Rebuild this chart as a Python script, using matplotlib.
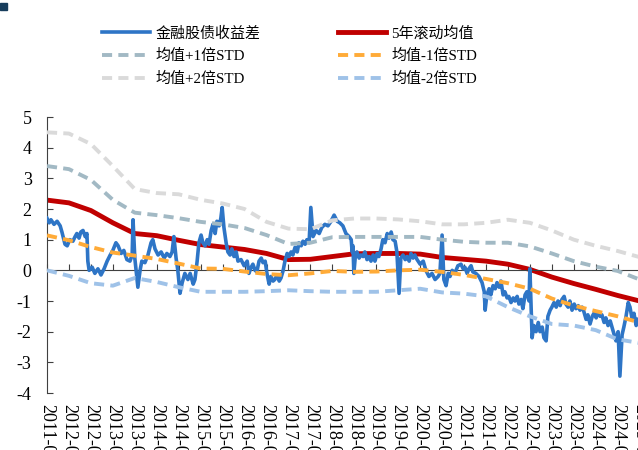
import matplotlib
matplotlib.use('Agg')
import matplotlib.pyplot as plt
from matplotlib.patches import Rectangle

plt.rcParams['font.family'] = ['Liberation Serif', 'Noto Sans CJK SC']
plt.rcParams['axes.unicode_minus'] = False

# spread series (decimal years, value)
spread_t = [
    2011.50, 2011.55, 2011.59, 2011.66, 2011.73, 2011.80, 2011.84, 2011.91, 2011.96, 2012.02,
    2012.09, 2012.14, 2012.18, 2012.23, 2012.27, 2012.32, 2012.37, 2012.41, 2012.43, 2012.46,
    2012.53, 2012.59, 2012.66, 2012.73, 2012.80, 2012.87, 2012.94, 2013.00, 2013.07, 2013.12,
    2013.19, 2013.25, 2013.32, 2013.39, 2013.44, 2013.46, 2013.50, 2013.55, 2013.57, 2013.62,
    2013.66, 2013.73, 2013.80, 2013.87, 2013.91, 2013.96, 2014.03, 2014.10, 2014.17, 2014.23,
    2014.30, 2014.35, 2014.39, 2014.44, 2014.48, 2014.53, 2014.58, 2014.64, 2014.71, 2014.76,
    2014.83, 2014.87, 2014.92, 2014.96, 2015.01, 2015.05, 2015.10, 2015.15, 2015.19, 2015.24,
    2015.28, 2015.33, 2015.37, 2015.42, 2015.46, 2015.49, 2015.53, 2015.58, 2015.62, 2015.67,
    2015.71, 2015.76, 2015.81, 2015.85, 2015.92, 2015.99, 2016.06, 2016.10, 2016.15, 2016.19,
    2016.24, 2016.28, 2016.33, 2016.38, 2016.42, 2016.47, 2016.51, 2016.56, 2016.60, 2016.65,
    2016.69, 2016.74, 2016.79, 2016.83, 2016.88, 2016.92, 2016.97, 2017.01, 2017.06, 2017.10,
    2017.15, 2017.20, 2017.24, 2017.29, 2017.33, 2017.38, 2017.42, 2017.47, 2017.51, 2017.56,
    2017.63, 2017.70, 2017.76, 2017.83, 2017.90, 2017.97, 2018.04, 2018.11, 2018.17, 2018.24,
    2018.31, 2018.38, 2018.43, 2018.45, 2018.47, 2018.49, 2018.52, 2018.56, 2018.61, 2018.65,
    2018.70, 2018.74, 2018.79, 2018.84, 2018.88, 2018.93, 2018.97, 2019.02, 2019.06, 2019.11,
    2019.15, 2019.20, 2019.25, 2019.29, 2019.34, 2019.38, 2019.43, 2019.47, 2019.52, 2019.56,
    2019.61, 2019.66, 2019.70, 2019.75, 2019.79, 2019.84, 2019.88, 2019.93, 2020.00, 2020.07,
    2020.13, 2020.20, 2020.27, 2020.34, 2020.41, 2020.45, 2020.50, 2020.54, 2020.59, 2020.64,
    2020.68, 2020.73, 2020.79, 2020.86, 2020.93, 2020.98, 2021.02, 2021.07, 2021.11, 2021.16,
    2021.20, 2021.27, 2021.34, 2021.41, 2021.46, 2021.48, 2021.52, 2021.57, 2021.61, 2021.66,
    2021.71, 2021.75, 2021.80, 2021.84, 2021.89, 2021.93, 2021.98, 2022.02, 2022.07, 2022.12,
    2022.16, 2022.21, 2022.25, 2022.30, 2022.34, 2022.39, 2022.43, 2022.48, 2022.50, 2022.55,
    2022.59, 2022.64, 2022.69, 2022.73, 2022.78, 2022.82, 2022.87, 2022.91, 2022.96, 2023.00,
    2023.05, 2023.10, 2023.14, 2023.19, 2023.23, 2023.28, 2023.32, 2023.37, 2023.41, 2023.46,
    2023.51, 2023.55, 2023.60, 2023.64, 2023.69, 2023.73, 2023.78, 2023.82, 2023.87, 2023.92,
    2023.96, 2024.01, 2024.05, 2024.10, 2024.14, 2024.19, 2024.23, 2024.28, 2024.33, 2024.37,
    2024.42, 2024.46, 2024.51, 2024.55, 2024.60, 2024.64, 2024.69, 2024.74, 2024.78, 2024.83,
    2024.87, 2024.92, 2024.96,
]
spread = [
    1.70, 1.55, 1.65, 1.50, 1.60, 1.45, 1.25, 0.85, 0.80, 1.00,
    0.95, 1.10, 1.20, 1.05, 1.25, 1.30, 1.10, 1.20, 0.30, 0.00,
    0.10, -0.10, 0.05, -0.15, 0.05, 0.30, 0.50, 0.65, 0.90, 0.80,
    0.55, 0.65, 0.35, 0.30, 0.50, 1.65, 0.40, -0.30, -0.55, 0.00,
    0.30, 0.25, 0.50, 0.90, 1.00, 0.70, 0.50, 0.60, 0.40, 0.55,
    0.45, 0.60, 1.10, 0.40, 0.00, -0.75, -0.40, -0.10, -0.30, -0.10,
    -0.45, -0.30, 0.30, 0.90, 1.15, 0.90, 0.80, 1.00, 0.85, 1.30,
    1.50, 1.20, 1.60, 1.45, 1.70, 2.05, 1.40, 0.90, 0.60, 0.50,
    0.70, 0.45, 0.60, 0.30, 0.35, 0.15, 0.30, -0.10, 0.10, 0.20,
    0.00, -0.05, 0.30, 0.40, 0.25, 0.30, -0.10, -0.45, -0.20, -0.35,
    -0.30, -0.15, -0.35, -0.25, 0.00, 0.30, 0.55, 0.45, 0.60, 0.50,
    0.75, 0.60, 0.90, 0.80, 0.95, 0.85, 1.00, 0.90, 2.05, 1.10,
    1.30, 1.20, 1.40, 1.50, 1.45, 1.60, 1.80, 1.60, 1.55, 1.45,
    1.20, 1.10, 1.00, 0.60, 0.80, -0.10, 0.40, 0.60, 0.40, 0.50,
    0.45, 0.60, 0.35, 0.45, 0.30, 0.50, 0.30, 0.55, 0.45, 0.70,
    1.00, 0.90, 1.20, 1.05, 1.25, 1.00, 0.95, 0.60, -0.75, 0.40,
    0.50, 0.35, 0.45, 0.30, 0.55, 0.40, 0.50, 0.35, 0.20, 0.30,
    0.00, -0.20, -0.10, -0.30, -0.20, -0.10, 1.15, -0.30, -0.50, -0.10,
    -0.20, 0.00, -0.10, 0.15, 0.20, 0.05, 0.10, -0.10, 0.05, 0.15,
    -0.05, -0.10, -0.20, -0.40, -0.70, -1.30, -0.80, -0.60, -0.80, -0.50,
    -0.60, -0.40, -0.55, -0.35, -0.80, -0.70, -0.90, -0.85, -1.05, -0.90,
    -1.00, -0.85, -1.10, -0.95, -1.25, -0.80, -0.70, -1.00, 0.05, -2.20,
    -1.80, -2.00, -1.70, -2.00, -1.85, -2.20, -2.30, -1.50, -1.30, -1.20,
    -1.05, -1.20, -1.00, -1.15, -0.95, -0.85, -1.10, -1.20, -1.00, -1.30,
    -1.10, -1.25, -1.15, -1.30, -1.20, -1.35, -1.60, -1.45, -1.75, -1.50,
    -1.40, -1.55, -1.35, -1.50, -1.45, -1.70, -1.55, -1.80, -1.65, -1.85,
    -2.10, -2.30, -2.00, -3.45, -2.10, -1.85, -1.50, -1.05, -1.20, -1.60,
    -1.40, -1.80, -1.60,
]

# rolling statistics, half-year points
band_t = [
    2011.5, 2012.0, 2012.5, 2013.0, 2013.5, 2014.0, 2014.5, 2015.0, 2015.5, 2016.0,
    2016.5, 2017.0, 2017.5, 2018.0, 2018.5, 2019.0, 2019.5, 2020.0, 2020.5, 2021.0,
    2021.5, 2022.0, 2022.5, 2023.0, 2023.5, 2024.0, 2024.5, 2025.0,
]
mean5y = [
    2.29, 2.20, 1.95, 1.55, 1.20, 1.13, 0.98, 0.84, 0.76, 0.68,
    0.55, 0.35, 0.36, 0.45, 0.54, 0.55, 0.55, 0.53, 0.42, 0.36,
    0.30, 0.20, 0.03, -0.22, -0.43, -0.62, -0.82, -1.00,
]
plus1 = [
    3.40, 3.30, 2.95, 2.30, 1.88, 1.80, 1.70, 1.58, 1.50, 1.38,
    1.15, 0.86, 0.90, 1.08, 1.09, 1.09, 1.09, 1.09, 1.00, 0.93,
    0.90, 0.90, 0.78, 0.55, 0.30, 0.12, -0.02, -0.30,
]
plus2 = [
    4.50, 4.46, 4.12, 3.40, 2.65, 2.52, 2.48, 2.30, 2.18, 2.00,
    1.58, 1.36, 1.34, 1.63, 1.69, 1.69, 1.66, 1.60, 1.50, 1.50,
    1.55, 1.65, 1.55, 1.30, 1.00, 0.80, 0.63, 0.43,
]
minus1 = [
    1.14, 0.98, 0.76, 0.58, 0.48, 0.37, 0.22, 0.06, 0.05, -0.04,
    -0.12, -0.16, -0.10, -0.02, -0.05, -0.04, 0.00, 0.02, -0.05, -0.15,
    -0.28, -0.42, -0.60, -0.92, -1.15, -1.33, -1.50, -1.70,
]
minus2 = [
    0.00, -0.18, -0.42, -0.50, -0.25, -0.38, -0.55, -0.70, -0.70, -0.70,
    -0.68, -0.65, -0.68, -0.70, -0.70, -0.70, -0.65, -0.60, -0.72, -0.76,
    -0.85, -1.20, -1.50, -1.75, -1.80, -1.95, -2.25, -2.37,
]

tick_t = band_t
tick_labels = []
for t in tick_t:
    yr = int(t)
    tick_labels.append(f"{yr}-07-01" if t % 1 else f"{yr}-01-04")

fig = plt.figure(figsize=(6.38, 4.5), dpi=100)
# axes runs past the right edge like the cropped original
ax = fig.add_axes([47 / 638, 1 - 393 / 450, 653 / 638, 276 / 450])

h_sp, = ax.plot(spread_t, spread, color='#2e75c6', lw=2.6, zorder=3, label='金融股债收益差')
h_mean, = ax.plot(band_t, mean5y, color='#c00000', lw=3.5, zorder=2, label='5年滚动均值')
dash = (2.6, 1.6)
h_p1, = ax.plot(band_t, plus1, color='#a2b9c4', lw=2.8, dashes=dash, zorder=4, label='均值+1倍STD')
h_m1, = ax.plot(band_t, minus1, color='#ffab38', lw=2.8, dashes=dash, zorder=4, label='均值-1倍STD')
h_p2, = ax.plot(band_t, plus2, color='#dadada', lw=2.8, dashes=dash, zorder=4, label='均值+2倍STD')
h_m2, = ax.plot(band_t, minus2, color='#9fc2e8', lw=2.8, dashes=dash, zorder=4, label='均值-2倍STD')

ax.set_xlim(2011.5, 2011.5 + 653 / 43.9)
ax.set_ylim(-4, 5)
ax.set_yticks(range(-4, 6))
ax.tick_params(axis='y', direction='in', length=4, pad=11, labelsize=13, color='#404040')

ax.spines['top'].set_visible(False)
ax.spines['right'].set_visible(False)
ax.spines['left'].set_color('#404040')
ax.spines['bottom'].set_position(('data', 0))
ax.spines['bottom'].set_color('#404040')
ax.set_xticks(tick_t)
ax.tick_params(axis='x', direction='in', length=4, labelbottom=False, color='#404040')

# date labels sit below the plot, not on the zero line
sec = ax.secondary_xaxis('bottom')
sec.set_xticks(tick_t)
sec.set_xticklabels(tick_labels, rotation=270, fontsize=13)
sec.tick_params(length=0, pad=8)
sec.spines['bottom'].set_visible(False)

handles = [h_sp, h_p1, h_p2, h_mean, h_m1, h_m2]
fig.legend(handles=handles, labels=[h.get_label() for h in handles],
           loc='upper left', bbox_to_anchor=(102 / 638, 1 - 26 / 450), ncol=2,
           frameon=False, fontsize=10.8, handlelength=3.2, handletextpad=0.35,
           columnspacing=5.2, labelspacing=0.58, borderpad=0, borderaxespad=0)

fig.patches.append(Rectangle((0, 1 - 10 / 450), 7 / 638, 7 / 450,
                             transform=fig.transFigure, color='#173d5c'))

fig.savefig('out.png', dpi=100)
